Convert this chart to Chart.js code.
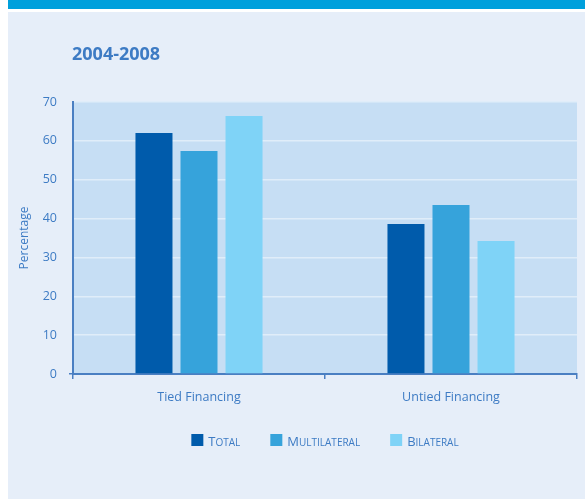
<!DOCTYPE html>
<html>
<head>
<meta charset="utf-8">
<script src="https://cdn.jsdelivr.net/npm/chart.js@4/dist/chart.umd.min.js"></script>
<style>
  html, body { margin: 0; padding: 0; background: #ffffff; }
  #wrap { position: relative; width: 585px; height: 499px; }
</style>
</head>
<body>
<div id="wrap"><canvas id="c" width="585" height="499"></canvas></div>
<script>
const titleText = '2004-2008';
const yAxisTitle = 'Percentage';
const categories = ['Tied Financing', 'Untied Financing'];
const seriesNames = ['Total', 'Multilateral', 'Bilateral'];
const totalValues = [62.0, 38.6];
const multilateralValues = [57.4, 43.5];
const bilateralValues = [66.4, 34.2];
const yTicks = [0, 10, 20, 30, 40, 50, 60, 70];

const seriesColors = ['#005bab', '#36a3db', '#7fd3f7'];
const textColor = '#3d7bc4';
const axisColor = '#4a7fc2';
const fontFam = '"Open Sans"';

// draws a word in small caps: first letter large, the rest as small capitals
function smallCapsParts(word) {
  return [{ t: word.charAt(0).toUpperCase(), big: true }, { t: word.slice(1).toUpperCase(), big: false }];
}
function measureSmallCaps(ctx, word) {
  let w = 0;
  for (const p of smallCapsParts(word)) {
    ctx.font = (p.big ? '13px ' : '10px ') + fontFam;
    w += ctx.measureText(p.t).width;
  }
  return w;
}
function drawSmallCaps(ctx, word, x, y) {
  for (const p of smallCapsParts(word)) {
    ctx.font = (p.big ? '13px ' : '10px ') + fontFam;
    ctx.fillText(p.t, x, y);
    x += ctx.measureText(p.t).width;
  }
}

const backgroundPlugin = {
  id: 'bg',
  beforeDraw(chart) {
    const ctx = chart.ctx;
    const a = chart.chartArea;
    ctx.save();
    ctx.fillStyle = '#ffffff';
    ctx.fillRect(0, 0, chart.width, chart.height);
    ctx.fillStyle = '#00a0dc';
    ctx.fillRect(8, 0, chart.width - 8, 9);
    ctx.fillStyle = '#e6eef9';
    ctx.fillRect(8, 12, chart.width - 8, chart.height - 12);
    ctx.fillStyle = '#c6def4';
    ctx.fillRect(a.left, a.top, a.right - a.left, a.bottom - a.top);
    ctx.fillStyle = textColor;
    ctx.font = 'bold 18px ' + fontFam;
    ctx.textBaseline = 'middle';
    ctx.textAlign = 'left';
    ctx.fillText(titleText, 72, 55);
    ctx.restore();
  },
  afterDraw(chart) {
    const ctx = chart.ctx;
    const a = chart.chartArea;
    ctx.save();
    const box = 12, gapBoxText = 5, gapItems = 30;
    const items = chart.data.datasets.map(ds => ({ name: ds.label, color: ds.backgroundColor, w: measureSmallCaps(ctx, ds.label) }));
    let total = 0;
    items.forEach((it, i) => { total += box + gapBoxText + it.w + (i < items.length - 1 ? gapItems : 0); });
    let x = (a.left + a.right) / 2 - total / 2;
    const yTop = 434;
    ctx.textBaseline = 'alphabetic';
    ctx.textAlign = 'left';
    items.forEach(it => {
      ctx.fillStyle = it.color;
      ctx.fillRect(x, yTop, box, box);
      ctx.fillStyle = textColor;
      drawSmallCaps(ctx, it.name, x + box + gapBoxText, yTop + 11.5);
      x += box + gapBoxText + it.w + gapItems;
    });
    ctx.restore();
  }
};

new Chart(document.getElementById('c'), {
  type: 'bar',
  data: {
    labels: categories,
    datasets: [
      { label: seriesNames[0], data: totalValues, backgroundColor: seriesColors[0] },
      { label: seriesNames[1], data: multilateralValues, backgroundColor: seriesColors[1] },
      { label: seriesNames[2], data: bilateralValues, backgroundColor: seriesColors[2] }
    ]
  },
  options: {
    responsive: false,
    animation: false,
    devicePixelRatio: 1,
    layout: { padding: { left: 0, right: 8, top: 102, bottom: 85 } },
    datasets: { bar: { categoryPercentage: 0.536, barPercentage: 0.822 } },
    plugins: {
      title: { display: false },
      tooltip: { enabled: false },
      legend: { display: false }
    },
    scales: {
      x: {
        afterFit(scale) { scale.height = 40; },
        grid: { display: true, drawOnChartArea: false, offset: true, tickLength: 5, color: axisColor, lineWidth: 1.5 },
        border: { display: true, color: axisColor, width: 2 },
        ticks: { color: textColor, font: { family: fontFam, size: 12.5 }, padding: 11 }
      },
      y: {
        min: 0,
        max: 70,
        afterFit(scale) { scale.width = 73; },
        afterBuildTicks(scale) { scale.ticks = yTicks.map(v => ({ value: v })); },
        grid: {
          color: '#e0edf9', lineWidth: 1.5, drawTicks: true, tickLength: 4,
          tickColor: ctx => (ctx.tick && ctx.tick.value === 0 ? axisColor : 'rgba(0,0,0,0)')
        },
        border: { display: true, color: axisColor, width: 2 },
        ticks: { color: textColor, font: { family: fontFam, size: 12.5 }, padding: 12 },
        title: { display: true, text: yAxisTitle, color: textColor, font: { family: fontFam, size: 12 }, padding: { top: 17, bottom: 0 } }
      }
    }
  },
  plugins: [backgroundPlugin]
});
</script>
</body>
</html>
